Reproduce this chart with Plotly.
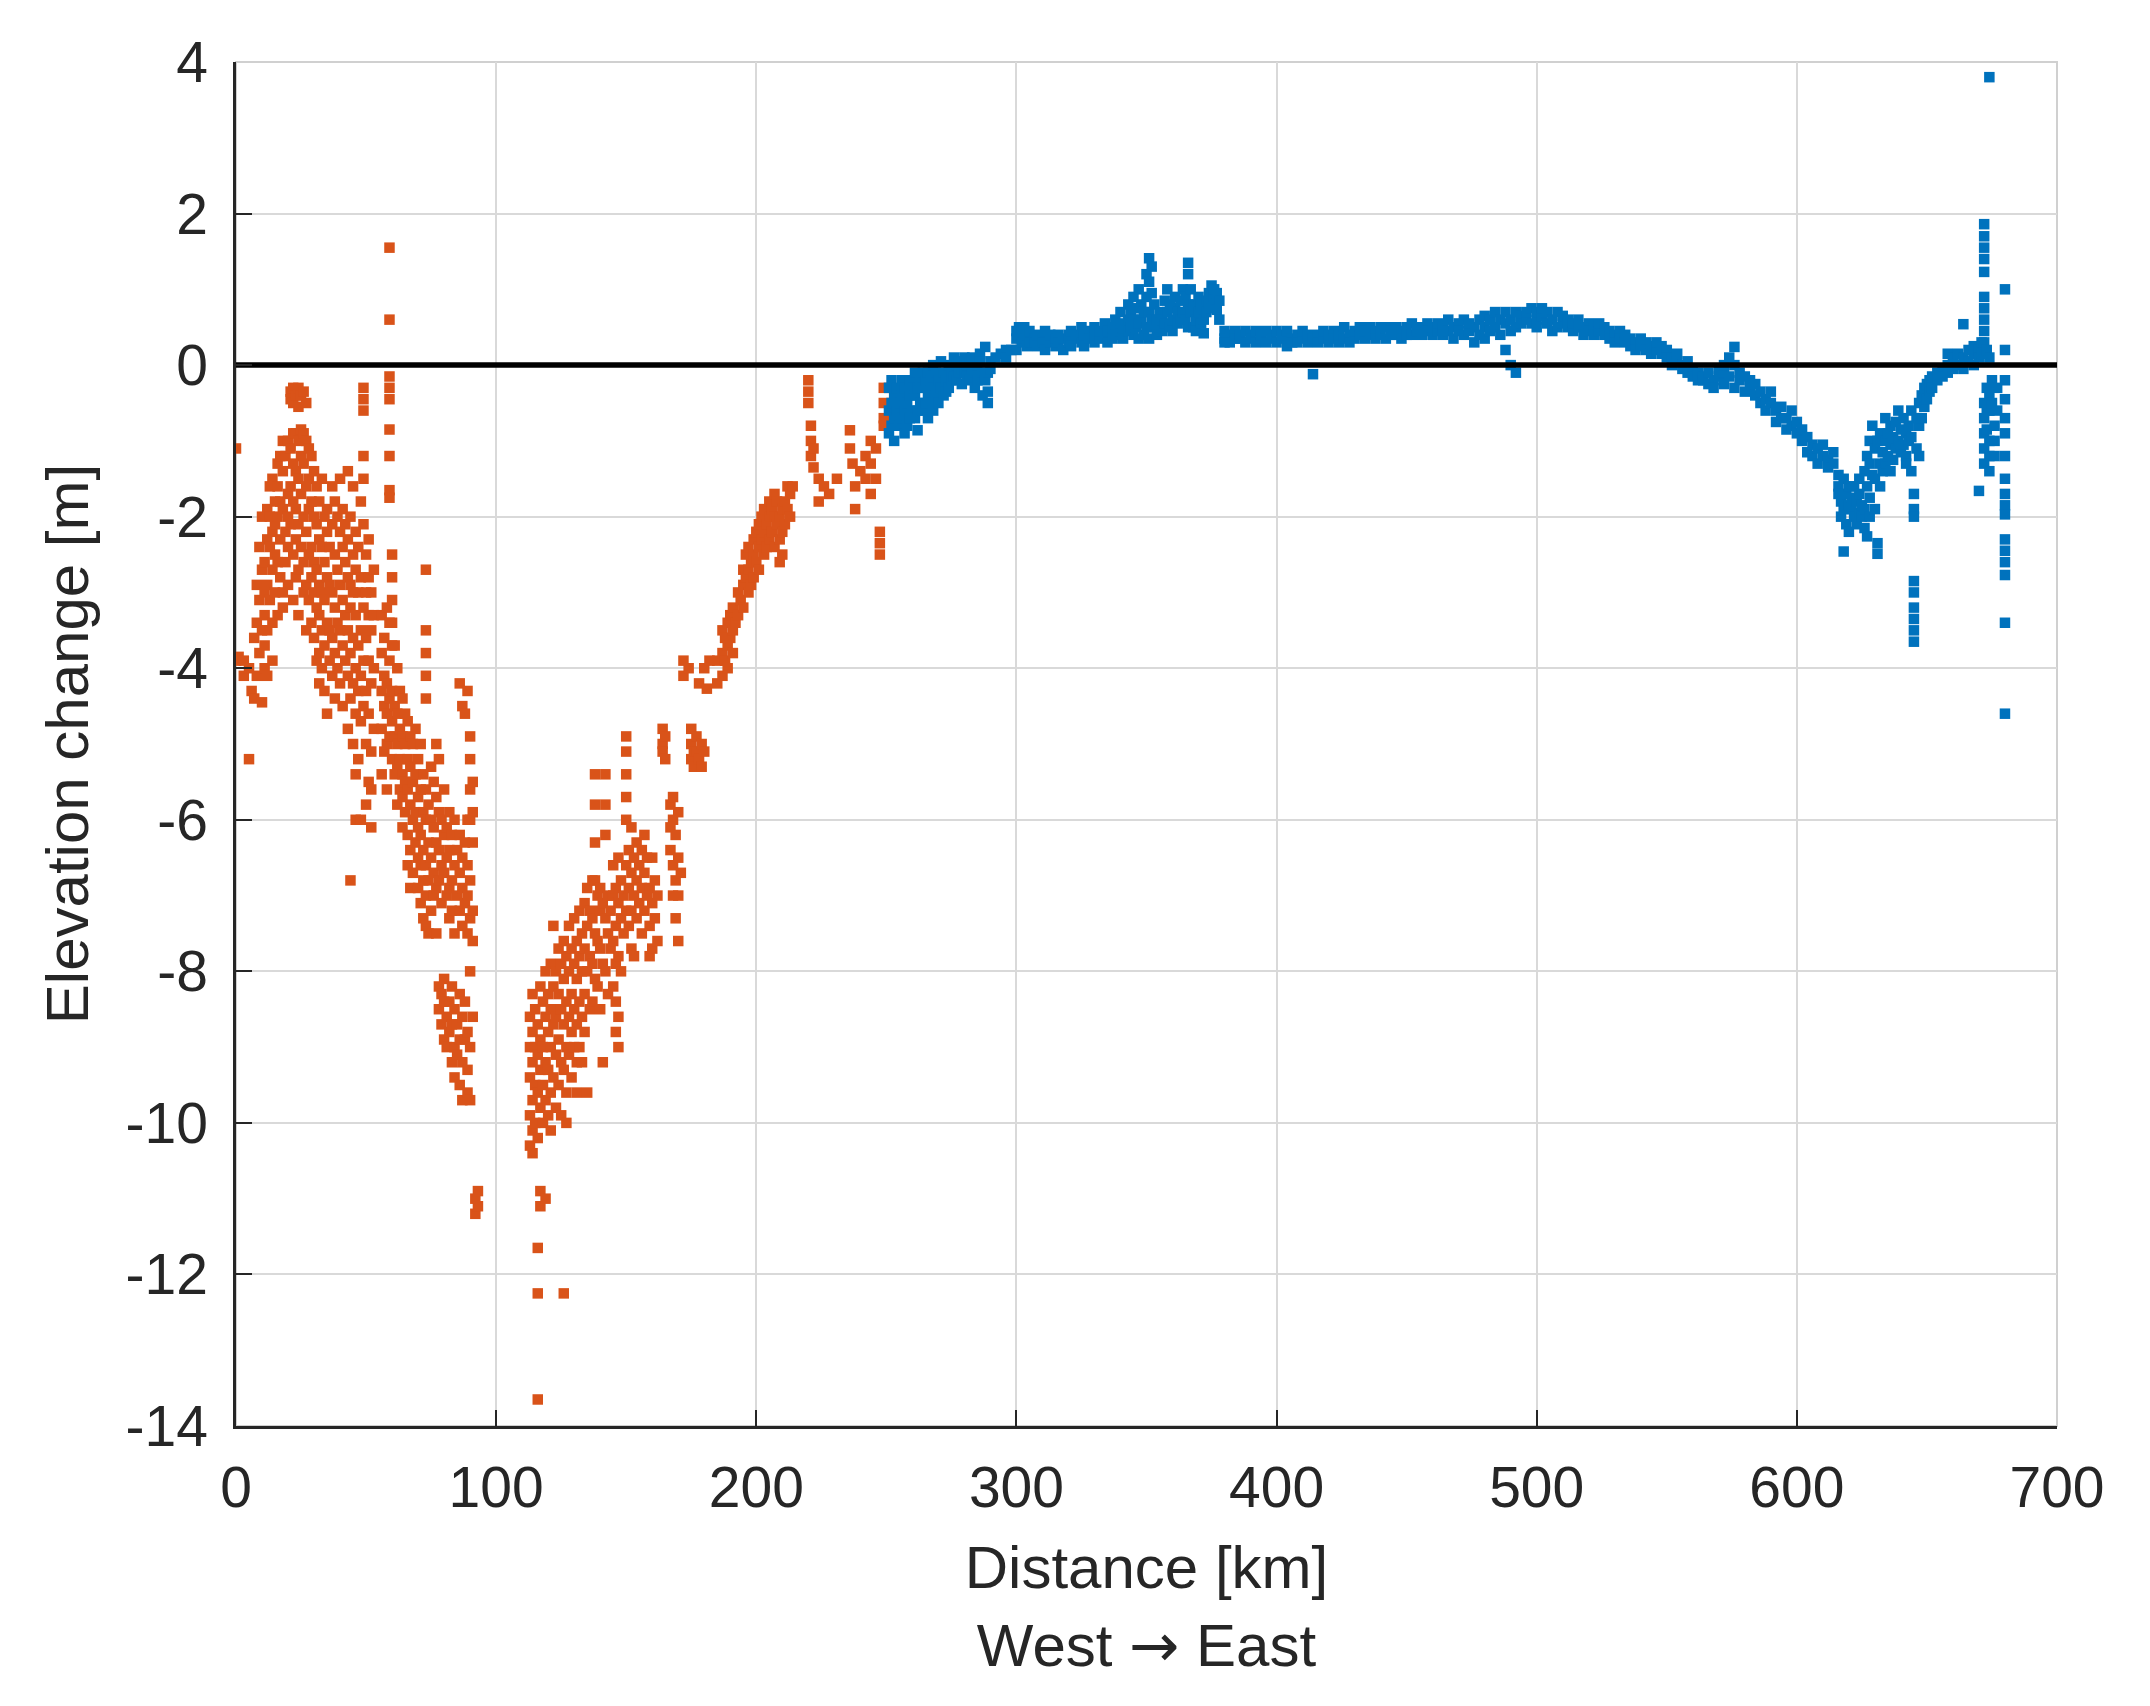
import plotly.graph_objects as go

# ---------------- data (distance km, elevation change m) ----------------
orange_far_west = [
    (0, [-1.1, -3.9]), (1, [-3.85]), (3, [-3.9, -4.1]), (5, [-4.0, -5.2]), (6, [-4.3]),
    (7, [-3.6, -4.4]), (8, [-2.9, -3.4, -4.1]), (9, [-2.4, -3.1, -3.8]), (10, [-2.0, -2.7, -3.5, -4.45]),
]
orange_cluster = [
    (11, [-2.6, -3.0, -3.3, -3.7, -4.0]), (12, [-1.9, -2.3, -2.9, -3.5, -4.1]),
    (13, [-1.6, -2.0, -2.4, -3.1]), (14, [-1.5, -2.2, -2.7, -3.4, -3.9]),
    (15, [-1.8, -2.1, -2.5, -3.0]), (16, [-1.3, -1.6, -2.0, -2.6, -3.3]),
    (17, [-1.2, -1.8, -2.3, -2.8]), (18, [-1.0, -1.4, -1.9, -3.0, -3.2]),
    (19, [-1.2, -2.2, -2.6]), (20, [-1.0, -1.7, -2.0, -2.4, -2.9]),
    (21, [-0.35, -0.45, -1.1, -1.6, -2.1]), (22, [-0.3, -0.5, -0.9, -1.3, -1.8, -2.5, -3.1]),
    (23, [-0.4, -0.9, -1.4, -1.9, -2.3, -2.8]), (24, [-0.3, -0.55, -1.0, -1.5, -2.1, -2.7, -3.3]),
    (25, [-0.4, -0.85, -1.2, -1.7, -2.4]), (26, [-0.35, -0.9, -1.3, -2.0, -2.6, -3.0]),
    (27, [-0.5, -1.0, -1.6, -2.2, -2.9, -3.5]), (28, [-1.1, -1.5, -1.9, -2.5, -3.1]),
    (29, [-1.2, -1.8, -2.4, -2.8, -3.4]), (30, [-1.4, -2.0, -2.6, -3.0, -3.6]),
    (31, [-1.6, -2.1, -2.7, -3.2, -3.9]), (32, [-1.8, -2.3, -2.9, -3.3, -3.8, -4.2]),
    (33, [-1.5, -2.4, -3.0, -3.5, -4.0]), (34, [-2.0, -2.6, -3.1, -3.7, -4.3]),
    (35, [-1.9, -2.2, -2.8, -3.4, -4.6]), (36, [-2.4, -2.9, -3.5, -3.9]),
    (37, [-1.6, -2.1, -3.0, -3.6, -4.1]), (38, [-1.8, -2.5, -3.2, -3.8, -4.4]),
    (39, [-2.0, -2.7, -3.4, -4.0]), (40, [-1.5, -2.2, -2.9, -3.5, -4.2]),
    (41, [-1.9, -2.4, -3.1, -3.7, -4.5]), (42, [-2.1, -2.6, -3.3, -3.9]),
    (43, [-1.4, -2.3, -2.8, -3.5, -4.1, -4.8]), (44, [-2.0, -2.9, -3.2, -3.8, -4.4, -6.8]),
    (45, [-1.6, -2.5, -3.0, -3.6, -4.2, -5.0]), (46, [-2.2, -2.7, -3.3, -4.0, -4.6, -5.4, -6.0]),
    (47, [-2.4, -3.0, -3.7, -4.3, -5.2]), (48, [-1.8, -2.8, -3.5, -4.1, -4.7, -6.0]),
    (49, [-0.3, -0.45, -0.6, -1.2, -1.5, -2.1, -3.2, -3.9, -4.5]),
    (50, [-2.5, -3.0, -3.6, -4.3, -5.0, -5.8]), (51, [-2.3, -2.8, -3.3, -3.9, -4.6, -5.5]),
    (52, [-3.0, -3.5, -4.2, -5.1, -5.6, -6.1]), (53, [-2.7, -3.3, -4.0, -4.8]),
]
orange_slope = [
    (56, [-3.3, -3.8, -4.3, -4.8, -5.4]), (57, [-3.6, -4.1, -4.5, -5.1]),
    (58, [-3.2, -4.2, -4.6, -5.0, -5.6]),
    (59, [1.55, 0.6, -0.15, -0.3, -0.45, -0.85, -1.2, -1.65, -1.75, -3.4, -3.9, -4.4, -4.9]),
    (60, [-2.5, -2.8, -3.1, -3.4, -3.7, -4.3, -4.7, -5.2]), (61, [-3.7, -4.5, -4.9, -5.4]),
    (62, [-4.0, -4.6, -5.0, -5.3, -5.8]), (63, [-4.3, -4.8, -5.2, -5.6]),
    (64, [-4.4, -4.9, -5.4, -5.7, -6.1]), (65, [-4.6, -5.0, -5.5, -5.9]),
    (66, [-4.7, -5.2, -5.6, -6.2, -6.6]), (67, [-4.9, -5.3, -5.8, -6.4, -6.9]),
    (68, [-5.0, -5.5, -6.0, -6.7]), (69, [-4.8, -5.4, -5.9, -6.3]),
    (70, [-5.2, -5.7, -6.1, -6.5, -6.9]), (71, [-5.0, -5.6, -6.2, -6.6, -7.1]),
    (72, [-5.4, -5.9, -6.4, -6.8, -7.3]),
    (73, [-2.7, -3.5, -3.8, -4.1, -4.4, -5.6, -6.0, -6.6, -7.0, -7.4]),
    (74, [-5.8, -6.3, -6.8, -7.5]), (75, [-5.3, -6.0, -6.5, -7.2]),
    (76, [-5.5, -6.1, -6.7, -7.0]), (77, [-5.0, -5.7, -6.3, -6.9, -7.5]),
    (78, [-5.2, -5.9, -6.4, -6.8, -8.2, -8.5]), (79, [-6.0, -6.6, -7.1, -8.3, -8.7]),
    (80, [-5.6, -6.2, -6.7, -8.1, -8.4, -8.9]), (81, [-6.1, -6.5, -7.0, -8.6, -9.0]),
    (82, [-5.9, -6.4, -6.9, -7.3, -8.4, -8.8]), (83, [-6.2, -6.8, -7.2, -8.2, -8.7, -9.2]),
    (84, [-6.0, -6.6, -7.5, -8.5, -9.0, -9.4]), (85, [-6.4, -7.0, -8.7, -9.1]),
    (86, [-4.2, -6.2, -6.7, -7.2, -8.3, -8.9, -9.5]),
    (87, [-4.5, -6.5, -6.9, -7.4, -8.6, -9.2, -9.7]),
    (88, [-4.6, -6.3, -7.1, -8.4, -8.9]),
    (89, [-4.3, -6.0, -6.6, -7.0, -7.5, -8.8, -9.3, -9.6]),
    (90, [-4.9, -5.2, -5.6, -6.0, -6.8, -7.3, -8.0, -9.0, -9.7]),
    (91, [-5.5, -5.9, -6.3, -7.2, -7.6, -8.6]),
    (92, [-11.0, -11.2]), (93, [-10.9, -11.1]),
]
orange_trough = [
    (113, [-8.6, -9.0, -9.4, -9.9, -10.3]), (114, [-8.3, -8.8, -9.2, -9.7, -10.1, -10.4]),
    (115, [-8.5, -9.0, -9.5, -10.0]), (116, [-8.7, -9.1, -9.6, -10.2, -11.65, -12.25, -13.65]),
    (117, [-8.2, -8.9, -9.3, -9.8, -10.9, -11.1]), (118, [-8.4, -9.0, -9.5, -10.0]),
    (119, [-8.0, -8.6, -9.2, -9.7, -11.0]), (120, [-8.3, -8.8, -9.3, -9.9]),
    (121, [-7.9, -8.5, -9.0, -9.6, -10.1]), (122, [-7.4, -8.2, -8.7, -9.4]),
    (123, [-8.0, -8.6, -9.1, -9.8]), (124, [-7.7, -8.3, -8.9, -9.5]),
    (125, [-7.9, -8.5, -9.2, -9.9]), (126, [-7.6, -8.1, -8.7, -9.3, -12.25]),
    (127, [-7.8, -8.4, -9.0, -9.6, -10.0]), (128, [-7.4, -8.0, -8.6, -9.1]),
    (129, [-7.7, -8.3, -8.8, -9.4]), (130, [-7.3, -7.9, -8.5, -9.0]),
    (131, [-7.6, -8.1, -8.7, -9.2, -9.6]), (132, [-7.2, -7.8, -8.4, -9.0]),
    (133, [-7.5, -8.0, -8.6, -9.2]), (134, [-7.1, -7.7, -8.3, -8.8]),
    (135, [-6.9, -7.4, -8.0, -9.6]), (136, [-7.2, -7.8, -8.5]),
    (137, [-6.8, -7.3, -7.9, -8.4]), (138, [-5.4, -5.8, -6.3, -6.8, -7.5, -8.1]),
    (139, [-7.0, -7.6, -8.2]), (140, [-6.9, -7.2, -7.7, -8.5]),
    (141, [-7.1, -7.9, -9.2]), (142, [-5.4, -5.8, -6.2, -7.3, -8.0]),
    (143, [-7.0, -7.5, -8.3]), (144, [-7.2, -7.7]),
    (145, [-6.6, -7.0, -7.6, -8.2]), (146, [-6.9, -7.4, -7.9, -8.4, -8.8]),
    (147, [-6.5, -7.1, -7.8, -8.6, -9.0]), (148, [-6.8, -7.3, -8.0]), (149, [-7.0, -7.5]),
]
orange_rise = [
    (150, [-4.9, -5.1, -5.4, -5.7, -6.0, -6.6, -7.2]), (151, [-6.4, -6.9, -7.4]),
    (152, [-6.1, -6.7, -7.2, -7.7]), (153, [-6.5, -7.0, -7.8]), (154, [-6.3, -6.8, -7.3]),
    (155, [-6.6, -7.1]), (156, [-6.4, -6.9, -7.5]), (157, [-6.2, -6.7, -7.2]),
    (158, [-6.5, -7.0]), (159, [-6.9, -7.4, -7.8]), (160, [-6.5, -7.1, -7.7]),
    (161, [-6.8, -7.3]), (162, [-7.0, -7.6]), (164, [-4.8, -5.0, -5.1]), (165, [-4.9, -5.2]),
    (167, [-5.8, -6.1, -6.4]), (168, [-5.7, -6.0, -6.6, -7.0]), (169, [-6.2, -6.8, -7.3]),
    (170, [-5.9, -6.5, -7.0, -7.6]), (171, [-6.7]), (172, [-3.9, -4.1]), (174, [-4.0]),
    (175, [-4.8, -5.0, -5.2]), (176, [-5.1, -5.3]), (177, [-4.9, -5.1]), (178, [-4.2, -5.2]),
    (179, [-5.0, -5.3]), (180, [-4.0, -5.1]), (181, [-4.27]), (182, [-3.9]),
]
orange_recovery = [
    (185, [-3.9, -4.2]), (187, [-3.5, -3.8, -4.1]), (188, [-3.6, -3.9]),
    (189, [-3.4, -3.7, -4.0]), (190, [-3.3, -3.6]), (191, [-3.2, -3.5, -3.8]), (192, [-3.4]),
    (193, [-3.0, -3.3]), (194, [-3.1]), (195, [-2.7, -2.9, -3.2]), (196, [-2.5, -2.8]),
    (197, [-2.4, -2.7, -3.0]), (198, [-2.6, -2.9]), (199, [-2.3, -2.5, -2.8]),
    (200, [-2.2, -2.6]), (201, [-2.1, -2.4, -2.7]), (202, [-2.0, -2.3]),
    (203, [-1.9, -2.2, -2.5]), (204, [-2.1, -2.4]), (205, [-1.8, -2.0, -2.3]),
    (206, [-1.9, -2.2]), (207, [-1.7, -2.0, -2.4]), (208, [-1.8, -2.1]),
    (209, [-2.0, -2.3, -2.6]), (210, [-1.9, -2.2, -2.5]), (211, [-1.8, -2.1]),
    (212, [-1.6, -1.9]), (213, [-1.7, -2.0]), (214, [-1.6]),
    (220, [-0.2, -0.35, -0.5]), (221, [-0.8, -1.0, -1.2]), (222, [-1.1, -1.35]),
    (224, [-1.5, -1.8]), (226, [-1.6]), (228, [-1.7]), (231, [-1.5]),
    (236, [-0.86, -1.1]), (237, [-1.3]), (238, [-1.6, -1.9]), (240, [-1.4]),
    (242, [-1.2, -1.5]), (244, [-1.0, -1.3, -1.7]), (246, [-1.1, -1.5]),
    (247.5, [-2.2, -2.35, -2.5]), (249, [-0.3, -0.5, -0.7, -0.8]),
]

blue_rise = [
    (251, [-0.3, -0.6, -0.9]), (252, [-0.2, -0.5, -0.8]), (253, [-0.4, -0.7, -1.0]),
    (254, [-0.3, -0.6]), (255, [-0.5, -0.8]), (256, [-0.2, -0.4, -0.7]),
    (257, [-0.3, -0.6, -0.9]), (258, [-0.5, -0.8]), (259, [-0.2, -0.4, -0.7]),
    (260, [-0.3, -0.6]), (261, [-0.1, -0.4, -0.7]), (262, [-0.3, -0.6, -0.86]),
    (263, [-0.2, -0.5]), (264, [-0.1, -0.3, -0.6]), (265, [-0.2, -0.5]),
    (266, [-0.1, -0.4, -0.7]), (267, [-0.2, -0.5]), (268, [0.0, -0.3, -0.6]),
    (269, [-0.1, -0.4]), (270, [-0.2, -0.5]), (271, [0.05, -0.3]), (272, [-0.1, -0.4]),
    (273, [-0.2, -0.35]), (274, [0.0, -0.3]), (275, [-0.1, -0.2]), (276, [0.1, -0.15]),
    (277, [0.0, -0.2]), (278, [0.05, -0.1]), (279, [-0.05, -0.25]), (280, [0.1, -0.1]),
    (281, [0.0, -0.15]), (282, [0.05, -0.2]), (283, [0.1, -0.05]), (284, [-0.1, -0.3]),
    (285, [0.0, -0.2]), (286, [0.15, 0.05]), (287, [-0.1, -0.4]), (288, [0.24, -0.2]),
    (289, [-0.35, -0.5, -0.1]), (290, [0.05, -0.05]), (292, [0.1]), (294, [0.15]),
    (296, [0.2, 0.1]), (298, [0.2]),
]
blue_bumps = [
    (300, [0.35, 0.45, 0.2]), (301, [0.4, 0.5]), (302, [0.3, 0.45]), (303, [0.35, 0.5]),
    (304, [0.4, 0.25]), (305, [0.3, 0.45]), (307, [0.35, 0.3]), (308, [0.4, 0.25]),
    (310, [0.35, 0.3]), (311, [0.45, 0.2]), (313, [0.3, 0.4]), (315, [0.25, 0.35]),
    (316, [0.4, 0.3]), (318, [0.35, 0.2]), (320, [0.3, 0.4]), (321, [0.45, 0.25]),
    (323, [0.35, 0.4]), (325, [0.3, 0.5]), (326, [0.4, 0.25]), (328, [0.45, 0.35]),
    (330, [0.3, 0.4, 0.5]), (332, [0.35, 0.45]), (334, [0.4, 0.55]), (335, [0.3, 0.45]),
    (337, [0.5, 0.35]), (338, [0.4, 0.6]), (340, [0.45, 0.55, 0.7]), (341, [0.5, 0.35]),
    (343, [0.6, 0.8, 0.45]), (344, [0.5, 0.7]), (345, [0.9, 0.6, 0.4]), (346, [0.75, 0.5]),
    (347, [0.55, 1.0, 0.35]), (348, [0.8, 0.6]), (349, [0.4, 0.7]), (350, [1.2, 0.9, 0.5]),
    (351, [1.41, 1.1, 0.7, 0.35]), (352, [1.3, 0.95, 0.6]), (353, [0.8, 0.5]),
    (354, [0.6, 0.4]), (355, [0.5, 0.7]), (356, [0.45, 0.6]), (357, [0.55, 0.85]),
    (358, [0.7, 1.0]), (359, [0.5, 0.8]), (360, [0.6, 0.45]), (361, [0.75, 0.9]),
    (362, [0.55, 0.7]), (363, [0.85, 0.6]), (364, [0.7, 1.0]), (365, [0.9, 0.6]),
    (366, [1.35, 1.2, 0.8, 0.5]), (367, [1.0, 0.7]), (368, [0.5, 0.8]), (369, [0.6, 0.45]),
    (370, [0.7, 0.9]), (371, [0.55, 0.8]), (372, [0.6, 0.42]), (373, [0.7, 0.85]),
    (374, [0.8, 0.95]), (375, [1.05, 0.75]), (376, [0.9, 1.0]), (377, [0.8, 0.95, 0.73]),
    (378, [0.85, 0.6]),
]
blue_plateau = [
    (380, [0.45, 0.35, 0.3]), (382, [0.4, 0.3]), (384, [0.45, 0.35]), (386, [0.35, 0.4]),
    (388, [0.3, 0.45]), (390, [0.4, 0.35]), (392, [0.3, 0.45]), (394, [0.35, 0.4]),
    (396, [0.3, 0.45]), (398, [0.4, 0.35]), (400, [0.45, 0.3]), (402, [0.35, 0.4]),
    (404, [0.25, 0.45]), (406, [0.35, 0.3]), (408, [0.4, 0.3]), (410, [0.35, 0.45]),
    (412, [0.3, 0.4]), (414, [-0.12, 0.35]), (416, [0.4, 0.3]), (418, [0.35, 0.45]),
    (420, [0.3, 0.4]), (422, [0.45, 0.35]), (424, [0.3, 0.4]), (426, [0.35, 0.5]),
    (428, [0.4, 0.3]), (430, [0.35, 0.45]), (432, [0.5, 0.4]), (434, [0.35, 0.45]),
    (436, [0.4, 0.5]), (438, [0.45, 0.35]), (440, [0.4, 0.5]), (442, [0.5, 0.35]),
    (444, [0.45, 0.4]), (446, [0.5, 0.4]), (448, [0.45, 0.35]), (450, [0.5, 0.4]),
    (452, [0.4, 0.55]), (454, [0.45, 0.5]), (456, [0.5, 0.4]), (458, [0.55, 0.45]),
    (460, [0.4, 0.5]), (462, [0.45, 0.55]), (464, [0.5, 0.4]), (466, [0.45, 0.6]),
    (468, [0.5, 0.35]), (470, [0.55, 0.45]), (472, [0.6, 0.4]), (474, [0.45, 0.55]),
    (476, [0.3, 0.5]), (478, [0.6, 0.4]), (480, [0.5, 0.65, 0.35]), (482, [0.45, 0.6]),
    (484, [0.7, 0.5]), (486, [0.4, 0.6]), (488, [0.55, 0.7, 0.2]), (490, [0.6, 0.45, 0.0]),
    (492, [0.5, -0.1, 0.7]), (494, [0.65, 0.55]), (496, [0.6, 0.7]), (498, [0.75, 0.55]),
    (500, [0.6, 0.7, 0.5]), (502, [0.65, 0.75]), (504, [0.55, 0.7]), (506, [0.6, 0.45]),
    (508, [0.7, 0.5]), (510, [0.55, 0.65]), (512, [0.5, 0.6]), (514, [0.45, 0.55]),
    (516, [0.6, 0.5]), (518, [0.5, 0.4]), (520, [0.55, 0.45]), (522, [0.5, 0.4]),
    (524, [0.45, 0.55]), (526, [0.4, 0.5]), (528, [0.45, 0.35]), (530, [0.4, 0.3]),
    (532, [0.45, 0.35]), (534, [0.3, 0.4]), (536, [0.35, 0.25]), (538, [0.3, 0.2]),
    (540, [0.35, 0.25]), (542, [0.3, 0.2]), (544, [0.25, 0.15]), (546, [0.2, 0.3]),
    (548, [0.15, 0.25]), (550, [0.2, 0.1]), (552, [0.1, 0.0]), (554, [0.05, 0.15]),
    (556, [0.0, -0.05]), (558, [-0.1, 0.05]),
]
blue_descent = [
    (560, [-0.05, -0.15]), (562, [-0.1, -0.2]), (564, [-0.2, -0.15]), (566, [-0.25, -0.1]),
    (568, [-0.2, -0.3]), (570, [-0.15, -0.05]), (572, [-0.1, 0.0, -0.25]), (574, [0.1, -0.15]),
    (576, [0.24, 0.0, -0.3]), (578, [-0.1, -0.2]), (580, [-0.15, -0.35]), (582, [-0.3, -0.2]),
    (584, [-0.4, -0.25]), (586, [-0.35, -0.5]), (588, [-0.45, -0.6]), (590, [-0.5, -0.35]),
    (592, [-0.6, -0.75]), (594, [-0.55, -0.7]), (596, [-0.7, -0.85]), (598, [-0.8, -0.6]),
    (600, [-0.9, -0.75]), (602, [-1.0, -0.85]), (604, [-1.15, -0.95]), (606, [-1.05, -1.2]),
    (608, [-1.1, -1.3]), (610, [-1.2, -1.05]), (612, [-1.25, -1.35]), (614, [-1.3, -1.15]),
    (616, [-1.45, -1.6, -1.7]), (617, [-1.8, -2.0]), (618, [-1.5, -1.9, -2.46]),
    (619, [-1.7, -2.1]), (620, [-1.6, -1.85, -2.2]), (621, [-1.9, -1.75]),
    (622, [-1.6, -2.0]), (623, [-1.8, -2.1]), (624, [-1.5, -1.7, -1.95]),
    (625, [-1.85, -2.0]), (626, [-1.4, -1.9, -2.15]), (627, [-1.2, -1.6, -2.26]),
    (628, [-1.0, -1.3, -1.75, -2.0]), (629, [-0.8, -1.45]), (630, [-1.1, -1.5, -1.9]),
    (631, [-1.0, -2.49, -2.35]), (632, [-0.9, -1.3, -1.6]), (633, [-1.15, -1.4]),
    (634, [-0.7, -1.0, -1.3]), (635, [-1.2, -0.9]), (636, [-1.05, -0.8, -1.4]),
    (637, [-0.95, -1.25]), (638, [-0.75, -1.1]), (639, [-0.6, -1.0]), (640, [-0.85, -1.15]),
    (641, [-0.7, -1.05]), (642, [-0.9, -1.2, -1.3]), (643, [-0.8, -1.0]),
    (644, [-0.6, -0.95, -1.4]),
    (645, [-1.7, -1.9, -2.0, -2.85, -3.0, -3.2, -3.35, -3.5, -3.65]),
    (646, [-0.7, -1.1]), (647, [-0.5, -0.8, -1.2]), (648, [-0.4, -0.7]),
    (649, [-0.3, -0.55]), (650, [-0.25, -0.45]), (651, [-0.2, -0.35]), (652, [-0.15, -0.3]),
    (654, [-0.1, -0.2]), (656, [-0.05, -0.15]), (658, [0.0, -0.1, 0.15]),
]
blue_east_end = [
    (660, [0.1, -0.05]), (662, [0.15, 0.0]), (664, [0.54, 0.1, -0.05]), (666, [0.2, 0.05]),
    (668, [0.15, 0.0, 0.25]), (670, [0.2, 0.1, -1.66]), (671, [0.3, 0.15]),
    (672, [1.86, 1.7, 1.55, 1.4, 1.23, 0.9, 0.75, 0.6, 0.45, 0.3, -0.5, -0.7, -0.9, -1.1, -1.3]),
    (673, [0.2, -0.3, -0.6, -0.85]), (674, [3.8, 0.1, -0.4, -0.6, -1.0, -1.2, -1.4]),
    (675, [-0.2, -0.5]), (676, [-0.8, -1.0, -1.2]), (677, [-0.3, -0.6]),
    (680, [1.0, 0.2, -0.2, -0.45, -0.7, -0.9, -1.2, -1.5, -1.7, -1.85, -1.97,
           -2.3, -2.45, -2.6, -2.77, -3.4, -4.6]),
]

zero_x = [0, 700]
zero_y = [0, 0]

x_ticks = [0, 100, 200, 300, 400, 500, 600, 700]
y_ticks = [-14, -12, -10, -8, -6, -4, -2, 0, 2, 4]
y_tick_labels = ["-14", "-12", "-10", "-8", "-6", "-4", "-2", "0", "2", "4"]


def expand(*groups):
    xs, ys = [], []
    for g in groups:
        for x, col in g:
            for y in col:
                xs.append(x)
                ys.append(y)
    return xs, ys


ox, oy = expand(orange_far_west, orange_cluster, orange_slope, orange_trough,
                orange_rise, orange_recovery)
bx, by = expand(blue_rise, blue_bumps, blue_plateau, blue_descent, blue_east_end)

ORANGE = "#D95319"
BLUE = "#0072BD"
FONT = "Liberation Sans, Arial, sans-serif"

fig = go.Figure()
fig.add_trace(go.Scatter(x=ox, y=oy, mode="markers",
                         marker=dict(symbol="square", size=10.5, color=ORANGE, line=dict(width=0)),
                         showlegend=False))
fig.add_trace(go.Scatter(x=bx, y=by, mode="markers",
                         marker=dict(symbol="square", size=10.5, color=BLUE, line=dict(width=0)),
                         showlegend=False))
fig.add_trace(go.Scatter(x=zero_x, y=zero_y, mode="lines",
                         line=dict(color="black", width=5.5), showlegend=False))

axis_common = dict(
    showgrid=True, gridcolor="#d9d9d9", gridwidth=1.5,
    showline=True, linecolor="#262626", linewidth=2.5,
    ticks="inside", ticklen=16, tickwidth=2, tickcolor="#262626",
    tickfont=dict(family=FONT, size=57, color="#262626"),
    zeroline=False, automargin=False,
)

x_title = ("Distance [km]<br>West <span style=\"font-family:'DejaVu Sans'\">\u2192</span> East")

fig.update_layout(
    width=2150, height=1706,
    margin=dict(l=228, r=101, t=54, b=288),
    paper_bgcolor="white", plot_bgcolor="white",
    font=dict(family=FONT, color="#262626"),
    xaxis=dict(range=[0, 700], tickvals=x_ticks, ticklabelstandoff=10,
               title=dict(text=x_title,
                          font=dict(family=FONT, size=60, color="#262626"), standoff=28),
               **axis_common),
    yaxis=dict(range=[-14, 4], tickvals=y_ticks, ticktext=y_tick_labels, ticklabelstandoff=14,
               title=dict(text="Elevation change [m]",
                          font=dict(family=FONT, size=60, color="#262626"), standoff=18),
               **axis_common),
    shapes=[dict(type="rect", xref="paper", yref="paper", x0=0, y0=0, x1=1, y1=1,
                 line=dict(color="#d0d0d0", width=2), layer="below")],
)

fig.write_html("out.html")
